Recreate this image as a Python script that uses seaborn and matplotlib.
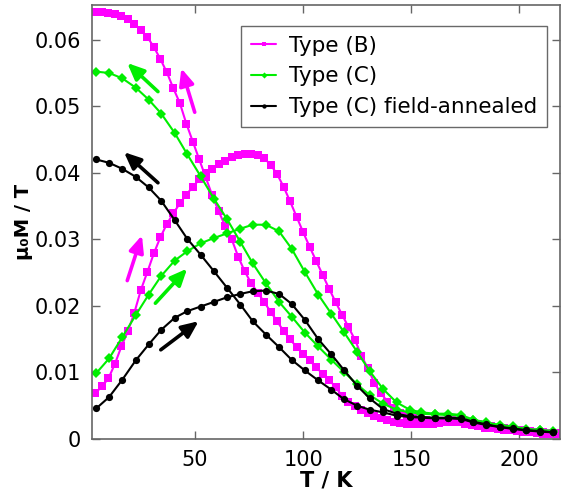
import numpy as np
import pandas as pd
import matplotlib
matplotlib.use('Agg')
import matplotlib.pyplot as plt
import seaborn as sns

# temperature grids (K)
t_b = [4, 7, 10, 13, 16, 19, 22, 25, 28, 31, 34, 37, 40, 43, 46, 49, 52, 55, 58, 61,
       64, 67, 70, 73, 76, 79, 82, 85, 88, 91, 94, 97, 100, 103, 106, 109, 112, 115, 118, 121,
       124, 127, 130, 133, 136, 139, 142, 145, 148, 151, 154, 157, 160, 163, 166, 169, 172, 175, 178, 181,
       184, 187, 190, 193, 196, 199, 202, 205, 208, 211, 214, 217]
t_c = [4.4, 10.3, 16.4, 22.6, 28.6, 34.4, 40.6, 46.4, 52.6, 58.8, 64.9, 71.0, 76.7, 82.8, 88.9, 94.7,
       100.8, 107.0, 113.1, 118.8, 125.0, 130.8, 137.0, 143.2, 149.3, 154.7, 160.9, 167.0, 173.2, 178.6,
       184.7, 190.9, 197.0, 203.2, 209.4, 215.5]

# Type (B): field-cooled (from high start) and zero-field-cooled warming
b_fc = [0.0642, 0.0642, 0.0640, 0.0638, 0.0635, 0.0631, 0.0624, 0.0614, 0.0604, 0.0589,
        0.0571, 0.0551, 0.0527, 0.0505, 0.0474, 0.0447, 0.0420, 0.0393, 0.0366, 0.0342,
        0.0320, 0.0300, 0.0274, 0.0252, 0.0234, 0.0220, 0.0206, 0.0191, 0.0177, 0.0162,
        0.0150, 0.0138, 0.0128, 0.0118, 0.0108, 0.0098, 0.0089, 0.0078, 0.0065, 0.0056,
        0.0050, 0.0044, 0.0039, 0.0034, 0.0031, 0.0028, 0.0026, 0.0024, 0.0023, 0.0022,
        0.0022, 0.0022, 0.0023, 0.0024, 0.0025, 0.0025, 0.0025, 0.0023, 0.0021, 0.0019,
        0.0017, 0.0016, 0.0015, 0.0014, 0.0013, 0.0012, 0.0011, 0.0010, 0.0009, 0.0008,
        0.0008, 0.0007]
b_zfc = [0.0069, 0.0079, 0.0091, 0.0113, 0.0139, 0.0162, 0.0190, 0.0224, 0.0251, 0.0279,
         0.0303, 0.0323, 0.0339, 0.0354, 0.0367, 0.0379, 0.0390, 0.0399, 0.0406, 0.0413,
         0.0418, 0.0423, 0.0426, 0.0428, 0.0429, 0.0427, 0.0422, 0.0412, 0.0398, 0.0379,
         0.0357, 0.0334, 0.0311, 0.0289, 0.0268, 0.0247, 0.0226, 0.0206, 0.0187, 0.0168,
         0.0149, 0.0125, 0.0106, 0.0084, 0.0069, 0.0056, 0.0046, 0.0039, 0.0034, 0.0031,
         0.0029, 0.0028, 0.0027, 0.0027, 0.0027, 0.0028, 0.0027, 0.0026, 0.0024, 0.0022,
         0.0020, 0.0019, 0.0017, 0.0016, 0.0015, 0.0014, 0.0013, 0.0012, 0.0011, 0.0010,
         0.0009, 0.0009]

# Type (C)
c_fc = [0.0552, 0.0550, 0.0542, 0.0528, 0.0510, 0.0489, 0.0460, 0.0428, 0.0395, 0.0361,
        0.0330, 0.0296, 0.0264, 0.0234, 0.0206, 0.0184, 0.0160, 0.0139, 0.0119, 0.0101,
        0.0082, 0.0066, 0.0053, 0.0044, 0.0040, 0.0038, 0.0037, 0.0036, 0.0035, 0.0028,
        0.0024, 0.0020, 0.0017, 0.0014, 0.0013, 0.0011]
c_zfc = [0.0099, 0.0121, 0.0153, 0.0186, 0.0217, 0.0245, 0.0268, 0.0282, 0.0294, 0.0302,
         0.0309, 0.0316, 0.0322, 0.0322, 0.0312, 0.0286, 0.0251, 0.0217, 0.0188, 0.0161,
         0.0131, 0.0102, 0.0075, 0.0055, 0.0044, 0.0040, 0.0038, 0.0038, 0.0036, 0.0029,
         0.0025, 0.0021, 0.0019, 0.0015, 0.0014, 0.0012]

# Type (C) field-annealed
a_fc = [0.0420, 0.0415, 0.0406, 0.0394, 0.0378, 0.0358, 0.0329, 0.0301, 0.0277, 0.0252,
        0.0227, 0.0202, 0.0177, 0.0157, 0.0138, 0.0119, 0.0103, 0.0088, 0.0074, 0.0060,
        0.0050, 0.0044, 0.0040, 0.0035, 0.0033, 0.0032, 0.0031, 0.0031, 0.0030, 0.0025,
        0.0021, 0.0018, 0.0015, 0.0013, 0.0011, 0.0010]
a_zfc = [0.0046, 0.0063, 0.0089, 0.0118, 0.0142, 0.0164, 0.0182, 0.0192, 0.0199, 0.0206,
         0.0213, 0.0218, 0.0222, 0.0223, 0.0218, 0.0203, 0.0179, 0.0150, 0.0127, 0.0104,
         0.0080, 0.0061, 0.0045, 0.0038, 0.0034, 0.0033, 0.0032, 0.0032, 0.0031, 0.0026,
         0.0022, 0.0018, 0.0016, 0.0013, 0.0012, 0.0010]

# arrows: (T_start, M_start, T_end, M_end)
arrows_b = [(49.9, 0.0491, 43.7, 0.0557), (18.7, 0.0238, 25.5, 0.0306)]
arrows_c = [(32.9, 0.0522, 18.7, 0.0565), (31.7, 0.0204, 46.4, 0.0256)]
arrows_a = [(32.9, 0.0385, 17.2, 0.0431), (34.2, 0.0134, 51.7, 0.0177)]

y_ticks = [0, 0.01, 0.02, 0.03, 0.04, 0.05, 0.06]
y_ticklabels = ['0', '0.01', '0.02', '0.03', '0.04', '0.05', '0.06']
x_ticks = [50, 100, 150, 200]

sns.set_style('ticks')
plt.rcParams['font.family'] = ['DejaVu Sans']
plt.rcParams['text.color'] = 'black'
plt.rcParams['axes.labelcolor'] = 'black'
plt.rcParams['xtick.labelcolor'] = 'black'
plt.rcParams['ytick.labelcolor'] = 'black'

fig = plt.figure(figsize=(5.61, 5.01), dpi=100)
ax = fig.add_axes([0.164, 0.1238, 0.835, 0.866])

samples = [
    ('Type (B)', '#ff00ff', 's', 6.0, t_b, b_fc, b_zfc, arrows_b),
    ('Type (C)', '#00ee00', 'D', 5.2, t_c, c_fc, c_zfc, arrows_c),
    ('Type (C) field-annealed', 'black', 'o', 5.2, t_c, a_fc, a_zfc, arrows_a),
]

for name, col, mk, ms, tt, fc, zfc, arr in samples:
    for i, yy in enumerate([fc, zfc]):
        sns.lineplot(x=tt, y=yy, ax=ax, color=col, marker=mk, markersize=ms,
                     markeredgewidth=0, linewidth=1.5, sort=False, estimator=None,
                     label=name if i == 0 else None)
    for (x0, y0, x1, y1) in arr:
        ax.annotate('', xy=(x1, y1), xytext=(x0, y0),
                    arrowprops=dict(arrowstyle='-|>,head_length=0.5,head_width=0.22',
                                    color=col, lw=2.6, mutation_scale=20,
                                    shrinkA=0, shrinkB=0))

ax.set_xlim(2.4, 219)
ax.set_ylim(0, 0.0652)
ax.set_xticks(x_ticks)
ax.set_xticklabels([str(v) for v in x_ticks])
ax.set_yticks(y_ticks)
ax.set_yticklabels(y_ticklabels)
ax.tick_params(direction='in', length=6, width=1, color='#666666', labelsize=15,
               top=True, right=True, pad=8)
for s in ax.spines.values():
    s.set_color('#666666')
    s.set_linewidth(1.2)

ax.set_xlabel('T / K', fontsize=15, fontweight='bold', labelpad=0)
ax.set_ylabel('μ₀M / T', fontsize=14, fontweight='bold', labelpad=1)

leg = ax.legend(loc='upper right', bbox_to_anchor=(0.972, 0.952), borderaxespad=0,
                fontsize=15.5, frameon=True, fancybox=False, markerscale=0.6,
                handlelength=1.2, handletextpad=0.6, labelspacing=0.5, borderpad=0.45)
leg.get_frame().set_edgecolor('#444444')
leg.get_frame().set_linewidth(1.0)

fig.savefig('out.png', dpi=100)
